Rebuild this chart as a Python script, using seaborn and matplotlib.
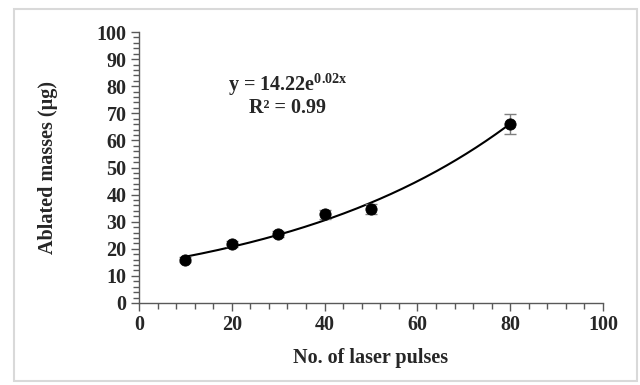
import numpy as np
import pandas as pd
import matplotlib
matplotlib.use("Agg")
import matplotlib.pyplot as plt
from matplotlib.patches import Rectangle
from matplotlib.ticker import MultipleLocator
import seaborn as sns

# Data
pulses = [10, 20, 30, 40, 50, 80]
masses = [16.0, 21.8, 25.5, 32.7, 34.7, 65.9]
errors = [0.8, 1.0, 1.0, 1.8, 1.7, 3.7]
x_ticks = [0, 20, 40, 60, 80, 100]
y_ticks = [0, 10, 20, 30, 40, 50, 60, 70, 80, 90, 100]
eq_text = r"y = 14.22e$^{\mathbf{0.02x}}$"
r2_text = "R² = 0.99"

sns.set_theme(style="white")
plt.rcParams["font.family"] = ["Liberation Serif", "DejaVu Serif"]
plt.rcParams["mathtext.fontset"] = "custom"
plt.rcParams["mathtext.rm"] = "Liberation Serif"
plt.rcParams["mathtext.bf"] = "Liberation Serif:bold"

df = pd.DataFrame({"pulses": pulses, "mass": masses, "err": errors})

# exponential trendline from the data (log-linear fit)
b, ln_a = np.polyfit(df["pulses"], np.log(df["mass"]), 1)
xf = np.linspace(min(pulses), max(pulses), 200)
fit = pd.DataFrame({"x": xf, "y": np.exp(ln_a) * np.exp(b * xf)})

fig = plt.figure(figsize=(6.4, 3.85), dpi=100)
ax = fig.add_axes([139/640, 1-303/385, (603-139)/640, (303-32)/385])

fig.patches.append(Rectangle((14/640, 1-381/385), (637-14)/640, (381-9)/385,
                             transform=fig.transFigure, fill=False,
                             edgecolor="#d9d9d9", linewidth=1.5))

sns.lineplot(data=fit, x="x", y="y", ax=ax, color="black", linewidth=1.5)
ax.errorbar(df["pulses"], df["mass"], yerr=df["err"], fmt="none",
            ecolor="#7f7f7f", elinewidth=1, capsize=4, capthick=1, zorder=3)
sns.scatterplot(data=df, x="pulses", y="mass", ax=ax, color="black",
                s=65, edgecolor="black", zorder=4)

ax.set_xlim(0, 100)
ax.set_ylim(0, 100)
ax.set_xticks(x_ticks)
ax.set_yticks(y_ticks)
ax.xaxis.set_minor_locator(MultipleLocator(4))
ax.yaxis.set_minor_locator(MultipleLocator(2))
for s in ["top", "right"]:
    ax.spines[s].set_visible(False)
for s in ["left", "bottom"]:
    ax.spines[s].set_color("#595959")
    ax.spines[s].set_linewidth(1)
ax.tick_params(which="major", direction="out", length=6, width=1,
               color="#595959", labelsize=14.5, pad=3)
ax.tick_params(which="minor", direction="out", length=4, width=1,
               color="#595959")
ax.tick_params(axis="x", which="both", bottom=True)
ax.tick_params(axis="y", which="both", left=True)
for lab in ax.get_xticklabels() + ax.get_yticklabels():
    lab.set_fontweight("bold")

ax.set_xlabel("No. of laser pulses", fontsize=14.5, fontweight="bold", labelpad=9)
ax.set_ylabel("Ablated masses (µg)", fontsize=14.5, fontweight="bold", labelpad=28)
ax.grid(False)

ax.text(32, 78.2, eq_text, fontsize=14.5, fontweight="bold", ha="center", va="baseline")
ax.text(32, 70.2, r2_text, fontsize=14.5, fontweight="bold", ha="center", va="baseline")

fig.savefig("out.png", dpi=100)
